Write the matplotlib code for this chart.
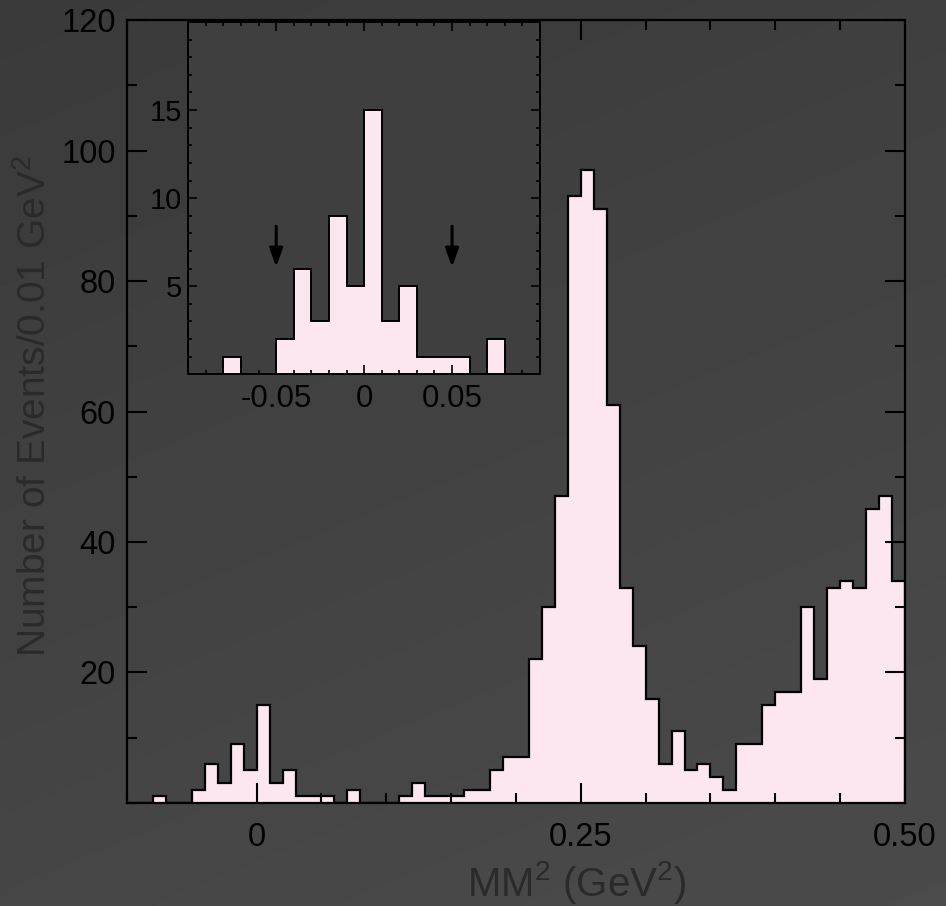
import numpy as np
import matplotlib
matplotlib.use('Agg')
import matplotlib.pyplot as plt
from matplotlib.ticker import MultipleLocator

plt.rcParams['font.family'] = ['Liberation Sans', 'DejaVu Sans']
plt.rcParams['mathtext.fontset'] = 'custom'
plt.rcParams['mathtext.rm'] = 'Liberation Sans'
plt.rcParams['mathtext.it'] = 'Liberation Sans:italic'

# histogram: 0.01 GeV^2 bins from -0.10 to 0.50
bin_edges = np.round(np.arange(-0.10, 0.505, 0.01), 2)
counts = [0, 0, 1, 0, 0, 2, 6, 3, 9, 5,
          15, 3, 5, 1, 1, 1, 0, 2, 0, 0,
          0, 1, 3, 1, 1, 1, 2, 2, 5, 7,
          7, 22, 30, 47, 93, 97, 91, 61, 33, 24,
          16, 6, 11, 5, 6, 4, 2, 9, 9, 15,
          17, 17, 30, 19, 33, 34, 33, 45, 47, 34]

main_xticks = [0, 0.25, 0.50]
main_xlabels = ['0', '0.25', '0.50']
main_yticks = [20, 40, 60, 80, 100, 120]
inset_xticks = [-0.05, 0, 0.05]
inset_xlabels = ['-0.05', '0', '0.05']
inset_yticks = [5, 10, 15]

# cut positions marked in the inset
arrow_x = [-0.05, 0.05]
arrow_top, arrow_tip = 8.4, 6.1

fill_color = '#fce6ef'
label_color = '#2a2a2a'

fig = plt.figure(figsize=(9.46, 9.06), dpi=100)

# dark gradient background
bg = fig.add_axes([0, 0, 1, 1], zorder=-10)
yy, xx = np.mgrid[0:1:200j, 0:1:200j]
level = (0x3a + 0x11 * (0.7 * yy + 0.3 * xx)) / 255.0
bg.imshow(level, cmap='gray', vmin=0, vmax=1, extent=[0, 1, 0, 1],
          aspect='auto', origin='upper', interpolation='bilinear')
bg.axis('off')

# main plot
ax = fig.add_axes([0.1342, 0.1137, 0.8224, 0.8642])
ax.set_facecolor('none')
ax.stairs(counts, bin_edges, fill=True, color=fill_color, baseline=0)
ax.stairs(counts, bin_edges, color='black', lw=1.6, baseline=0)
ax.set_xlim(-0.1, 0.5)
ax.set_ylim(0, 120)
ax.set_xticks(main_xticks)
ax.set_xticklabels(main_xlabels)
ax.xaxis.set_minor_locator(MultipleLocator(0.05))
ax.set_yticks(main_yticks)
ax.yaxis.set_minor_locator(MultipleLocator(10))
ax.set_axisbelow(False)
ax.tick_params(which='both', direction='in', top=True, right=True,
               width=1.5, color='black', labelcolor='black')
ax.tick_params(which='major', length=14.5, labelsize=23.5)
ax.tick_params(which='minor', length=7.2)
ax.tick_params(axis='x', which='major', pad=14)
ax.tick_params(axis='y', which='major', pad=8)
for sp in ax.spines.values():
    sp.set_linewidth(1.6)

fig.text(577 / 946, 1 - 896 / 906, r'MM$^{2}$ (GeV$^{2}$)', ha='center',
         va='baseline', fontsize=29, color=label_color)
fig.text(35 / 946, 1 - 406 / 906, r'Number of Events/0.01 GeV$^{2}$',
         ha='center', va='center', rotation=90, fontsize=28,
         color=label_color)

# inset zoom around zero
ins = fig.add_axes([0.199, 0.5869, 0.3718, 0.3888])
ins.set_facecolor('#3f3f3f')
ins.stairs(counts, bin_edges, fill=True, color=fill_color, baseline=0)
ins.stairs(counts, bin_edges, color='black', lw=1.4, baseline=0)
ins.set_xlim(-0.1, 0.1)
ins.set_ylim(0, 20)
ins.set_xticks(inset_xticks)
ins.set_xticklabels(inset_xlabels)
ins.xaxis.set_minor_locator(MultipleLocator(0.01))
ins.set_yticks(inset_yticks)
ins.yaxis.set_minor_locator(MultipleLocator(1))
ins.set_axisbelow(False)
ins.tick_params(which='both', direction='in', top=True, right=True,
                width=1.2, color='black', labelcolor='black')
ins.tick_params(which='major', length=6.5)
ins.tick_params(which='minor', length=3)
ins.tick_params(axis='x', which='major', labelsize=22.5, pad=7)
ins.tick_params(axis='y', which='major', labelsize=21, pad=4.5)
for sp in ins.spines.values():
    sp.set_linewidth(1.4)

for x in arrow_x:
    ins.annotate('', xy=(x, arrow_tip), xytext=(x, arrow_top),
                 arrowprops=dict(arrowstyle='-|>,head_length=0.55,head_width=0.2',
                                 lw=2.2, color='black', mutation_scale=20,
                                 shrinkA=0, shrinkB=0))

fig.savefig('out.png', dpi=100)
